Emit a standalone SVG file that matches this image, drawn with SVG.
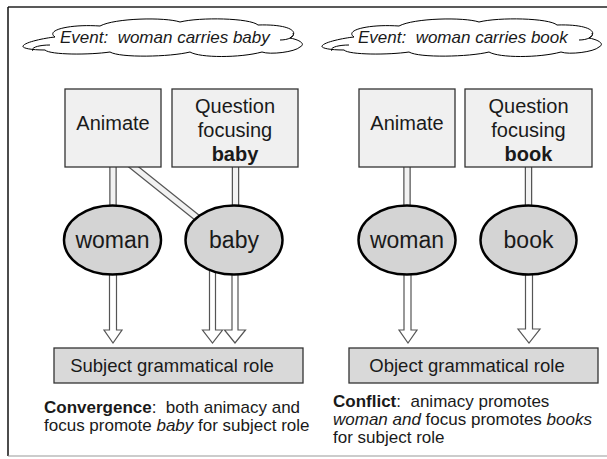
<svg xmlns="http://www.w3.org/2000/svg" width="607" height="459" viewBox="0 0 607 459">
<defs>
<style>
text{font-family:"Liberation Sans",Arial,sans-serif;fill:#1a1a1a}
.box{fill:#f0f0f0;stroke:#333;stroke-width:1.3}
.role{fill:#d9d9d9;stroke:#333;stroke-width:1.3}
.ell{fill:#d4d4d4;stroke:#000;stroke-width:2.5}
.bt{font-size:20px;text-anchor:middle}
.et{font-size:23px;text-anchor:middle}
.rt{font-size:18.5px;text-anchor:middle}
.ct{font-size:17px;font-style:italic}
.nt{font-size:17px}
.cloud{fill:#fff;stroke:#000;stroke-width:1}
.band-o{stroke:#555;stroke-width:7.5;fill:none}
.band-i{stroke:#f2f2f2;stroke-width:5;fill:none}
.arr{fill:#fff;stroke:#555;stroke-width:1.2;stroke-linejoin:miter}
</style>
<path id="cloudShape" d="M55,37 C45,30 70,24 100,26 C115,18 165,17 180,22 C200,17 250,18 258,25 C290,24 300,32 290,38 C300,40 306,44 300,47 C295,52 270,55 262,52 C240,58 200,58 190,52 C170,57 120,58 110,52 C90,55 50,55 45,50 C30,50 22,48 23,46 C25,42 45,38 55,37 Z M33,51 C30,48 38,45 50,45 M280,40 C288,40 295,37 293,33"/>
</defs>
<rect x="0" y="0" width="607" height="459" fill="#fff"/>
<g id="frame">
<line x1="8" y1="7" x2="607" y2="7" stroke="#222" stroke-width="1.5"/>
<line x1="8" y1="7" x2="8" y2="456" stroke="#111" stroke-width="1.5"/>
<line x1="8" y1="456" x2="607" y2="456" stroke="#999" stroke-width="1.2"/>
</g>
<g id="cloud-left">
<use href="#cloudShape" class="cloud"/>
<text class="ct" x="60" y="43" xml:space="preserve">Event:  woman carries baby</text>
</g>
<g id="cloud-right">
<use href="#cloudShape" class="cloud" transform="translate(299,0)"/>
<text class="ct" x="358" y="43" xml:space="preserve">Event:  woman carries book</text>
</g>
<g id="connectors">
<line class="band-o" x1="113" y1="160" x2="113" y2="230"/>
<line class="band-i" x1="113" y1="160" x2="113" y2="230"/>
<line class="band-o" x1="235.5" y1="160" x2="235.5" y2="230"/>
<line class="band-i" x1="235.5" y1="160" x2="235.5" y2="230"/>
<line class="band-o" x1="130" y1="164" x2="210" y2="228"/>
<line class="band-i" x1="130" y1="164" x2="210" y2="228"/>
<line class="band-o" x1="407" y1="160" x2="407" y2="230"/>
<line class="band-i" x1="407" y1="160" x2="407" y2="230"/>
<line class="band-o" x1="528.5" y1="160" x2="528.5" y2="230"/>
<line class="band-i" x1="528.5" y1="160" x2="528.5" y2="230"/>
<polygon class="arr" points="109.5,262 116.5,262 116.5,330 122,330 113,343 104,330 109.5,330"/>
<polygon class="arr" points="209.5,262 215.5,262 215.5,330 222.5,330 212.5,343 202.5,330 209.5,330"/>
<polygon class="arr" points="232,262 238,262 238,330 245.5,330 235,343 224.5,330 232,330"/>
<polygon class="arr" points="404,262 411,262 411,330 417,330 408,343 399,330 404,330"/>
<polygon class="arr" points="525.5,262 532.5,262 532.5,329 540,329 529,343 518,329 525.5,329"/>
</g>
<g id="animate-left">
<rect class="box" x="65" y="89" width="96" height="78"/>
<text class="bt" x="113" y="130">Animate</text>
</g>
<g id="question-left">
<rect class="box" x="172" y="89" width="126" height="78"/>
<text class="bt" x="235" y="113">Question</text>
<text class="bt" x="235" y="137">focusing</text>
<text class="bt" x="235" y="161" font-weight="bold">baby</text>
</g>
<g id="animate-right">
<rect class="box" x="359" y="89" width="96" height="78"/>
<text class="bt" x="407" y="130">Animate</text>
</g>
<g id="question-right">
<rect class="box" x="465" y="89" width="127" height="78"/>
<text class="bt" x="528.5" y="113">Question</text>
<text class="bt" x="528.5" y="137">focusing</text>
<text class="bt" x="528.5" y="161" font-weight="bold">book</text>
</g>
<g id="woman-left">
<ellipse class="ell" cx="112.5" cy="240" rx="48.5" ry="34.5"/>
<text class="et" x="112.5" y="248">woman</text>
</g>
<g id="baby">
<ellipse class="ell" cx="234" cy="240" rx="48.5" ry="34.5"/>
<text class="et" x="234" y="248">baby</text>
</g>
<g id="woman-right">
<ellipse class="ell" cx="407" cy="240" rx="48.5" ry="34.5"/>
<text class="et" x="407" y="248">woman</text>
</g>
<g id="book">
<ellipse class="ell" cx="528.5" cy="240" rx="48" ry="34.5"/>
<text class="et" x="528.5" y="248">book</text>
</g>
<g id="subject-role">
<rect class="role" x="54" y="348" width="249" height="35"/>
<text class="rt" x="172" y="372">Subject grammatical role</text>
</g>
<g id="object-role">
<rect class="role" x="349" y="348" width="249" height="35"/>
<text class="rt" x="467" y="372">Object grammatical role</text>
</g>
<g id="note-left">
<text class="nt" x="44" y="413" xml:space="preserve"><tspan font-weight="bold">Convergence</tspan>:  both animacy and</text>
<text class="nt" x="44" y="431">focus promote <tspan font-style="italic">baby</tspan> for subject role</text>
</g>
<g id="note-right">
<text class="nt" x="333" y="407" xml:space="preserve"><tspan font-weight="bold">Conflict</tspan>:  animacy promotes</text>
<text class="nt" x="333" y="425"><tspan font-style="italic">woman and</tspan> focus promotes <tspan font-style="italic">books</tspan></text>
<text class="nt" x="333" y="443">for subject role</text>
</g>
</svg>
